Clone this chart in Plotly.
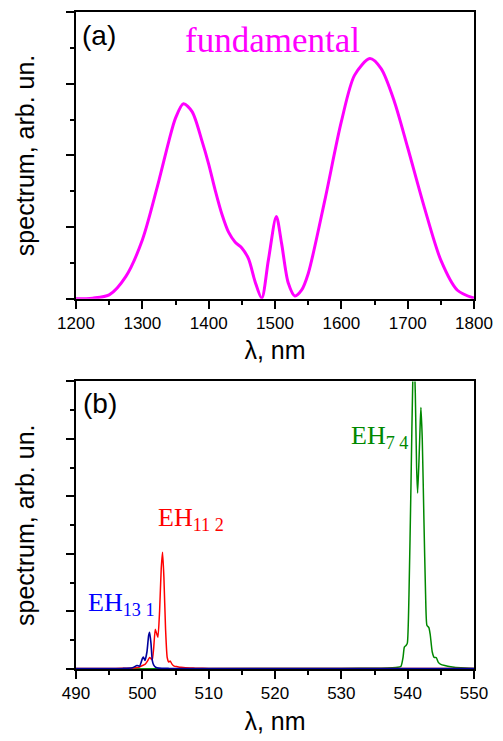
import plotly.graph_objects as go

# (a) fundamental spectrum, 1200-1800 nm
fund_wl = [1200, 1225, 1250, 1275, 1300, 1325, 1340, 1350, 1362, 1375, 1390, 1400,
           1410, 1420, 1430, 1440, 1450, 1460, 1470, 1480, 1490, 1502, 1510, 1520,
           1530, 1540, 1550, 1575, 1600, 1620, 1643, 1660, 1680, 1700, 1725, 1750,
           1775, 1800]
fund_sp = [0.0, 0.01, 0.055, 0.31, 0.82, 1.65, 2.2, 2.52, 2.72, 2.61, 2.2, 1.88,
           1.51, 1.18, 0.93, 0.79, 0.71, 0.56, 0.24, 0.01, 0.54, 1.15, 0.77, 0.22,
           0.04, 0.12, 0.35, 1.37, 2.47, 3.12, 3.35, 3.21, 2.75, 2.11, 1.28, 0.54,
           0.12, 0.01]

# (b) harmonic spectra, 490-550 nm
eh74_wl = [490, 530, 536, 538.5, 539.0, 539.3, 539.5, 539.75, 539.95, 540.2, 540.5,
           540.8, 540.95, 541.15, 541.35, 541.5, 541.7, 541.9, 542.0, 542.2, 542.45,
           542.7, 542.9, 543.2, 543.4, 543.7, 544.0, 544.3, 544.6, 545.0, 545.6,
           546.5, 548, 550]
eh74_sp = [0.0, 0.01, 0.015, 0.03, 0.05, 0.2, 0.38, 0.41, 0.45, 1.3, 3.2,
           5.2, 5.5, 4.8, 3.5, 3.06, 3.6, 4.3, 4.55, 4.0, 2.6,
           1.3, 0.76, 0.72, 0.6, 0.3, 0.2, 0.2, 0.12, 0.08, 0.06,
           0.04, 0.02, 0.01]

eh112_wl = [490, 496, 498, 499, 499.5, 500, 500.4, 500.8, 501.1, 501.3, 501.5, 501.7,
            501.95, 502.15, 502.35, 502.6, 502.85, 503.05, 503.25, 503.5, 503.75,
            504.0, 504.2, 504.5, 504.8, 505.3, 505.8, 506.5, 508, 510, 550]
eh112_sp = [0.01, 0.01, 0.015, 0.02, 0.03, 0.06, 0.08, 0.14, 0.2, 0.18, 0.16, 0.35,
            0.69, 0.62, 0.55, 1.0, 1.75, 2.03, 1.6, 0.7, 0.2,
            0.12, 0.14, 0.08, 0.05, 0.04, 0.03, 0.02, 0.015, 0.01, 0.01]

eh131_wl = [490, 497, 498.5, 499.2, 499.6, 500.0, 500.15, 500.4, 500.7, 500.95, 501.1,
            501.3, 501.5, 501.7, 502.0, 502.5, 504, 550]
eh131_sp = [0.01, 0.01, 0.02, 0.06, 0.05, 0.18, 0.21, 0.15, 0.3, 0.58, 0.64,
            0.45, 0.15, 0.07, 0.03, 0.015, 0.01, 0.01]

fig = go.Figure()
fig.add_trace(go.Scatter(x=fund_wl, y=fund_sp, mode="lines",
                         line=dict(color="#ff00ff", width=3, shape="spline", smoothing=0.8),
                         xaxis="x", yaxis="y", showlegend=False))
fig.add_trace(go.Scatter(x=eh74_wl, y=eh74_sp, mode="lines",
                         line=dict(color="#008800", width=1.5, shape="spline", smoothing=0.5),
                         xaxis="x2", yaxis="y2", showlegend=False))
fig.add_trace(go.Scatter(x=eh112_wl, y=eh112_sp, mode="lines",
                         line=dict(color="#ff0000", width=1.5, shape="spline", smoothing=0.5),
                         xaxis="x2", yaxis="y2", showlegend=False))
fig.add_trace(go.Scatter(x=eh131_wl, y=eh131_sp, mode="lines",
                         line=dict(color="#00009c", width=1.6, shape="spline", smoothing=0.5),
                         xaxis="x2", yaxis="y2", showlegend=False))

sans = "Liberation Sans, Arial, sans-serif"
serif = "Liberation Serif, Times New Roman, serif"
axis_font = dict(family=sans, size=17, color="black")
title_font = dict(family=sans, size=25, color="black")


def xaxis(rng, dtick, minor, anchor):
    return dict(range=rng, dtick=dtick, tick0=rng[0], showline=True, linecolor="black",
                linewidth=1.5, mirror=True, ticks="outside", ticklen=8, tickwidth=1.5,
                tickcolor="black", tickfont=axis_font, showgrid=False, zeroline=False,
                minor=dict(dtick=minor, tick0=rng[0], ticks="outside", ticklen=4,
                           tickwidth=1.5, tickcolor="black", showgrid=False),
                anchor=anchor, title=dict(text="λ, nm", font=title_font, standoff=10))


def yaxis(rng, domain, anchor):
    return dict(range=rng, domain=domain, dtick=1, tick0=0, showticklabels=False,
                showline=True, linecolor="black", linewidth=1.5, mirror=True,
                ticks="outside", ticklen=8, tickwidth=1.5, tickcolor="black",
                showgrid=False, zeroline=False,
                minor=dict(dtick=0.5, tick0=0, ticks="outside", ticklen=4,
                           tickwidth=1.5, tickcolor="black", showgrid=False),
                anchor=anchor,
                title=dict(text="spectrum, arb. un.", font=title_font, standoff=24))


fig.update_layout(
    width=503, height=741,
    margin=dict(l=76, r=17, t=10, b=69),
    paper_bgcolor="white", plot_bgcolor="white",
    xaxis=xaxis([1200, 1800], 100, 50, "y"),
    yaxis=yaxis([0, 4], [0.5634, 1.0], "x"),
    xaxis2=xaxis([490, 550], 10, 5, "y2"),
    yaxis2=yaxis([0, 5], [0.0, 0.4376], "x2"),
)

annotations = [
    dict(text="(a)", x=1205.4, y=3.67, xref="x", yref="y", xanchor="left", yanchor="middle",
         font=dict(family=sans, size=28, color="black")),
    dict(text="fundamental", x=1362.0, y=3.6, xref="x", yref="y", xanchor="left",
         yanchor="middle", font=dict(family=serif, size=35, color="#ff00ff")),
    dict(text="(b)", x=490.8, y=4.62, xref="x2", yref="y2", xanchor="left", yanchor="middle",
         font=dict(family=sans, size=28, color="black")),
    dict(text="EH<sub>13 1</sub>", x=491.5, y=1.13, xref="x2", yref="y2", xanchor="left",
         yanchor="middle", font=dict(family=serif, size=26, color="#0000ff")),
    dict(text="EH<sub>11 2</sub>", x=502.1, y=2.6, xref="x2", yref="y2", xanchor="left",
         yanchor="middle", font=dict(family=serif, size=26, color="#ff0000")),
    dict(text="EH<sub>7 4</sub>", x=531.2, y=4.04, xref="x2", yref="y2", xanchor="left",
         yanchor="middle", font=dict(family=serif, size=26, color="#008800")),
]
for a in annotations:
    a["showarrow"] = False
fig.update_layout(annotations=annotations)

fig.write_html("out.html")
